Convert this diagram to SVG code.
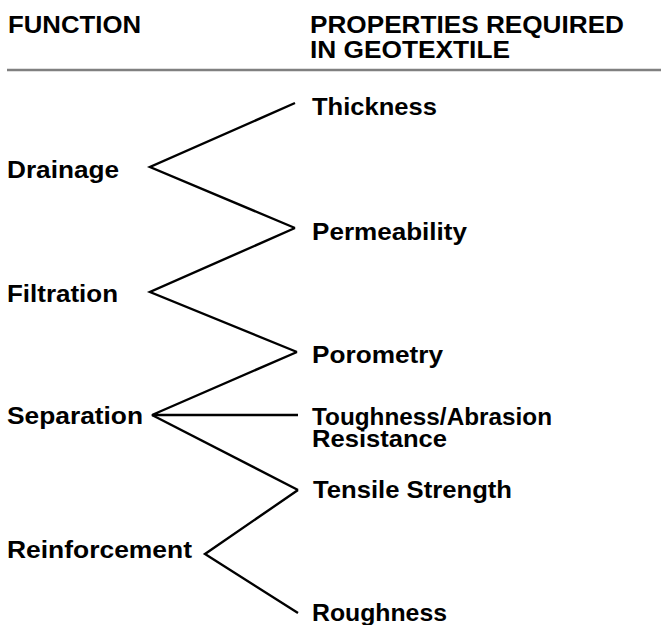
<svg xmlns="http://www.w3.org/2000/svg" width="661" height="625" viewBox="0 0 661 625">
<style>
text{font-family:"Liberation Sans",Arial,Helvetica,sans-serif;font-weight:bold;font-size:24px;fill:#000}
.c{fill:none;stroke:#000;stroke-width:2.4;stroke-linejoin:miter}
.rule{stroke:#808080;stroke-width:2.5}
</style>
<rect width="661" height="625" fill="#fff"/>
<g id="header">
<text x="8" y="33" textLength="133" lengthAdjust="spacingAndGlyphs">FUNCTION</text>
<text x="310" y="33" textLength="314" lengthAdjust="spacingAndGlyphs">PROPERTIES REQUIRED</text>
<text x="310" y="58" textLength="200" lengthAdjust="spacingAndGlyphs">IN GEOTEXTILE</text>
<line class="rule" x1="7" y1="70" x2="661" y2="70"/>
</g>
<g id="connectors">
<polyline class="c" points="295,103 150,167 295,228"/>
<polyline class="c" points="295,228 150,292 297,352"/>
<polyline class="c" points="297,352 152,415 298,415"/>
<polyline class="c" points="152,415 298,490"/>
<polyline class="c" points="298,490 205,554 298,613"/>
</g>
<g id="drainage"><text x="7" y="178" textLength="112" lengthAdjust="spacingAndGlyphs">Drainage</text></g>
<g id="filtration"><text x="7" y="302" textLength="111" lengthAdjust="spacingAndGlyphs">Filtration</text></g>
<g id="separation"><text x="7" y="424" textLength="136" lengthAdjust="spacingAndGlyphs">Separation</text></g>
<g id="reinforcement"><text x="7" y="558" textLength="185" lengthAdjust="spacingAndGlyphs">Reinforcement</text></g>
<g id="thickness"><text x="312" y="115" textLength="125" lengthAdjust="spacingAndGlyphs">Thickness</text></g>
<g id="permeability"><text x="312" y="240" textLength="155" lengthAdjust="spacingAndGlyphs">Permeability</text></g>
<g id="porometry"><text x="312" y="363" textLength="131" lengthAdjust="spacingAndGlyphs">Porometry</text></g>
<g id="toughness"><text x="312" y="425" textLength="240" lengthAdjust="spacingAndGlyphs">Toughness/Abrasion</text><text x="312" y="447" textLength="135" lengthAdjust="spacingAndGlyphs">Resistance</text></g>
<g id="tensile"><text x="313" y="498" textLength="199" lengthAdjust="spacingAndGlyphs">Tensile Strength</text></g>
<g id="roughness"><text x="312" y="621" textLength="135" lengthAdjust="spacingAndGlyphs">Roughness</text></g>
</svg>
